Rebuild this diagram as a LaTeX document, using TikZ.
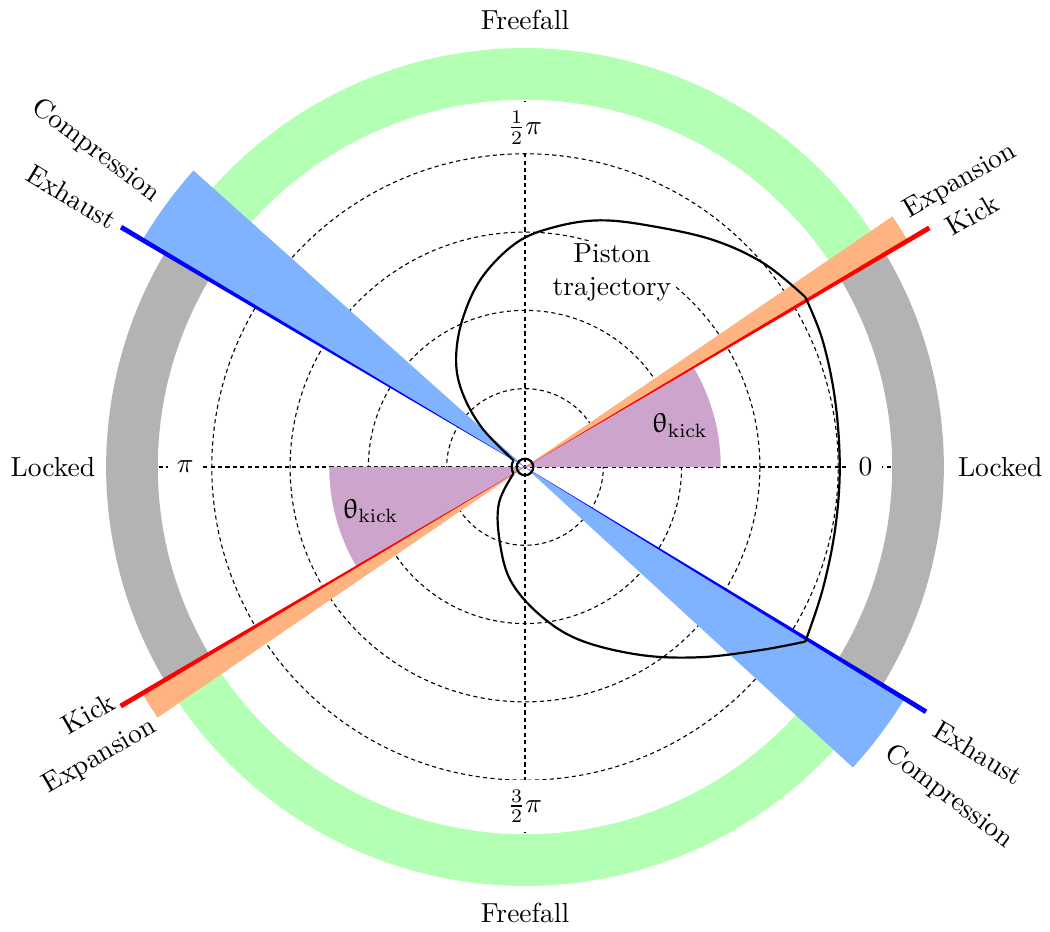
\documentclass[tikz,border=0pt]{standalone}
\usepackage{upgreek}
\definecolor{freeGreen}{HTML}{B3FFB3}
\definecolor{lockGray}{HTML}{B3B3B3}
\definecolor{compBlue}{HTML}{80B3FF}
\definecolor{expOrange}{HTML}{FFB380}
\definecolor{kickPurple}{HTML}{CCA4CC}
\begin{document}
\begin{tikzpicture}[
  line cap=butt,
  grid/.style={dash pattern=on 1.5pt off 1.2pt, line width=0.4pt},
  ring/.style={line width=0.66cm},
  tick/.style={fill=white}
]
  \useasboundingbox (-6.705,-5.939) rectangle (6.705,5.964);
  \coordinate (O) at (0,0);

  % Phase rings (green = freefall, gray = locked)
  \draw[freeGreen, ring] (30.6:5.02) arc (30.6:149.3:5.02);
  \draw[freeGreen, ring] (210.6:5.02) arc (210.6:328.6:5.02);
  \draw[lockGray, ring] (-31.4:5.02) arc (-31.4:30.6:5.02);
  \draw[lockGray, ring] (149.3:5.02) arc (149.3:210.6:5.02);

  % Polar grid
  \foreach \r in {1,2,3,4}
    \draw[grid] (O) circle (\r);
  \draw[grid] (180:4.68) -- (0:4.68);
  \draw[grid] (270:4.68) -- (90:4.68);

  % Phase wedges
  \fill[expOrange] (O) -- (30.6:5.68) arc (30.6:34.3:5.68) -- cycle;
  \fill[expOrange] (O) -- (210.6:5.68) arc (210.6:214.3:5.68) -- cycle;
  \fill[compBlue] (O) -- (138.2:5.68) arc (138.2:149.3:5.68) -- cycle;
  \fill[compBlue] (O) -- (317.5:5.68) arc (317.5:328.6:5.68) -- cycle;
  \fill[kickPurple] (O) -- (0:2.5) arc (0:30.6:2.5) -- cycle;
  \fill[kickPurple] (O) -- (180:2.5) arc (180:210.6:2.5) -- cycle;

  % Event lines (widening outwards)
  \fill[red] (O) -- (30.3:6) -- (30.9:6) -- cycle;
  \fill[red] (O) -- (210.3:6) -- (210.9:6) -- cycle;
  \fill[blue] (O) -- (149.0:6) -- (149.6:6) -- cycle;
  \fill[blue] (O) -- (328.3:6) -- (328.9:6) -- cycle;

  % Angle ticks
  \node[tick] (t0) at (0:4.35) {$0$};
  \node[tick] (t1) at (90:4.33) {$\frac{1}{2}\pi$};
  \node[tick] (t2) at (180:4.34) {$\pi$};
  \node[tick] (t3) at (270:4.33) {$\frac{3}{2}\pi$};

  % Piston trajectory
  \draw[thick] plot[smooth, tension=0.6] coordinates {
    (3.58,2.17) (3.05,2.60) (2.40,2.90) (1.60,3.08) (0.96,3.15) (0.40,3.07)
    (-0.10,2.87) (-0.55,2.42) (-0.80,1.88) (-0.88,1.37) (-0.80,0.95)
    (-0.55,0.50) (-0.147,0.085)};
  \draw[thick] (150:0.17) arc (150:210:0.17);
  \draw[thick] plot[smooth, tension=0.6] coordinates {
    (-0.147,-0.085) (-0.33,-0.45) (-0.33,-0.90) (-0.19,-1.44) (0.19,-1.89)
    (0.70,-2.21) (1.47,-2.40) (2.23,-2.43) (3.00,-2.34) (3.58,-2.23)};
  \draw[thick] plot[smooth, tension=0.6] coordinates {
    (3.58,-2.23) (3.80,-1.57) (3.96,-0.80) (4.02,0) (3.96,0.86) (3.80,1.62)
    (3.58,2.17)};
  \draw[thick] (O) circle (0.106);

  % Labels
  \node[fill=white, align=center, inner sep=1pt] (traj) at (1.11,2.48) {Piston\\trajectory};
  \node (kickA) at (15:2.05) {$\uptheta_{\mathrm{kick}}$};
  \node (kickB) at (196:2.05) {$\uptheta_{\mathrm{kick}}$};

  \node (freeTop) at (0,5.71) {Freefall};
  \node (freeBot) at (0,-5.70) {Freefall};
  \node (lockL) at (-6.03,0) {Locked};
  \node (lockR) at (6.07,0) {Locked};

  \node[rotate=-37] (compUL) at (-5.48,4.04) {Compression};
  \node[rotate=-31] (exhUL) at (-5.79,3.45) {Exhaust};
  \node[rotate=30] (expUR) at (5.56,3.65) {Expansion};
  \node[rotate=30] (kickUR) at (5.71,3.22) {Kick};
  \node[rotate=30] (kickLL) at (-5.58,-3.15) {Kick};
  \node[rotate=30] (expLL) at (-5.43,-3.70) {Expansion};
  \node[rotate=-31] (exhLR) at (5.79,-3.65) {Exhaust};
  \node[rotate=-37] (compLR) at (5.41,-4.21) {Compression};
\end{tikzpicture}
\end{document}
